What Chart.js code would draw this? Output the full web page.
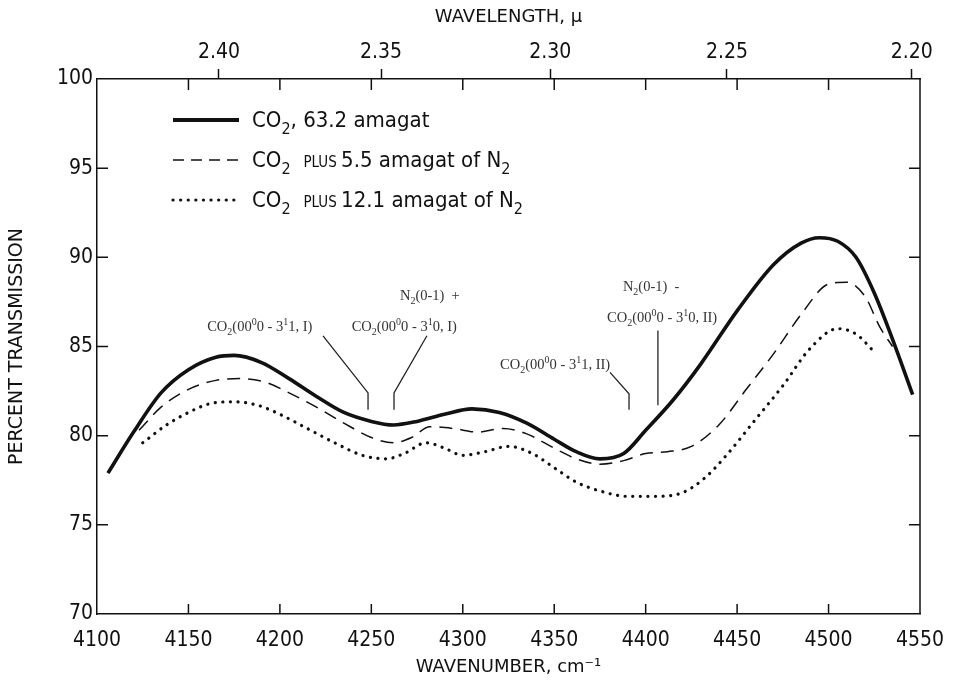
<!DOCTYPE html>
<html lang="en">
<head>
<meta charset="UTF-8" />
<title>CO2 transmission | pressure induced bands</title>
<style>
  html, body { margin: 0; padding: 0; background: #fff; }
  #wrap { width: 954px; height: 680px; }
</style>
</head>
<body>
<div id="wrap"><canvas id="chart" width="954" height="680"></canvas></div>

<script src="https://cdn.jsdelivr.net/npm/chart.js"></script>

<script>
// axis ticks
const wavenumberTicks = [4100, 4150, 4200, 4250, 4300, 4350, 4400, 4450, 4500, 4550];
const wavelengthTicks = [2.40, 2.35, 2.30, 2.25, 2.20];
const transmissionTicks = [70, 75, 80, 85, 90, 95, 100];

// CO2, 63.2 amagat
const pureX = [4106, 4120, 4135, 4150, 4165, 4175, 4190, 4205, 4220, 4235, 4250, 4262, 4275, 4290, 4305, 4320, 4335, 4350, 4362, 4375, 4388, 4400, 4415, 4430, 4450, 4470, 4485, 4495, 4505, 4515, 4525, 4535, 4546];
const pureY = [77.9, 80.2, 82.4, 83.7, 84.4, 84.5, 84.1, 83.2, 82.2, 81.3, 80.8, 80.6, 80.8, 81.2, 81.5, 81.3, 80.7, 79.8, 79.1, 78.7, 79.0, 80.3, 82.0, 84.0, 87.0, 89.6, 90.8, 91.1, 90.9, 90.0, 88.0, 85.4, 82.3];

// CO2 plus 5.5 amagat of N2
const n55X = [4123, 4135, 4150, 4165, 4178, 4192, 4205, 4220, 4235, 4250, 4262, 4272, 4282, 4295, 4308, 4322, 4335, 4350, 4362, 4375, 4388, 4400, 4412, 4425, 4440, 4455, 4470, 4485, 4500, 4510, 4520, 4528, 4535];
const n55Y = [80.3, 81.6, 82.6, 83.1, 83.2, 83.0, 82.4, 81.6, 80.7, 79.9, 79.6, 79.9, 80.5, 80.4, 80.2, 80.4, 80.1, 79.3, 78.7, 78.4, 78.6, 79.0, 79.1, 79.4, 80.6, 82.6, 84.6, 86.8, 88.5, 88.6, 87.8, 86.1, 85.0];

// CO2 plus 12.1 amagat of N2
const n121X = [4125, 4138, 4150, 4162, 4175, 4188, 4200, 4215, 4230, 4245, 4258, 4268, 4280, 4290, 4300, 4312, 4325, 4338, 4350, 4362, 4375, 4390, 4405, 4420, 4432, 4445, 4460, 4475, 4490, 4505, 4515, 4525];
const n121Y = [79.6, 80.6, 81.3, 81.8, 81.9, 81.7, 81.2, 80.4, 79.6, 78.9, 78.7, 79.0, 79.6, 79.3, 78.9, 79.1, 79.4, 79.0, 78.2, 77.4, 76.9, 76.6, 76.6, 76.8, 77.6, 79.0, 80.9, 82.8, 84.9, 86.0, 85.7, 84.7];

const INK = "#111111";
const SANS = "'Liberation Sans Narrow', 'DejaVu Sans Condensed', 'DejaVu Sans', sans-serif";
const WIDE = "'DejaVu Sans', 'Liberation Sans', sans-serif";
const SERIF = "'Liberation Serif', 'DejaVu Serif', serif";

const toPoints = (xs, ys) => xs.map((x, i) => ({ x: x, y: ys[i] }));

// draws a run of text pieces: [text, size, dy, family]
function richText(ctx, x, y, parts, align) {
  let width = 0;
  parts.forEach((p) => {
    ctx.font = p[1] + "px " + (p[3] || SANS);
    width += ctx.measureText(p[0]).width;
  });
  let cx = align === "center" ? x - width / 2 : x;
  ctx.textAlign = "left";
  ctx.textBaseline = "alphabetic";
  parts.forEach((p) => {
    ctx.font = p[1] + "px " + (p[3] || SANS);
    ctx.fillText(p[0], cx, y + (p[2] || 0));
    cx += ctx.measureText(p[0]).width;
  });
}

const legendItems = [
  { width: 4, dash: [], cap: "butt", parts: [["CO", 22], ["2", 16, 7], [", 63.2 amagat", 22]] },
  { width: 1.6, dash: [11, 7], cap: "butt", parts: [["CO", 22], ["2", 16, 7], ["   PLUS ", 15], ["5.5 amagat of N", 22], ["2", 16, 7]] },
  { width: 3.2, dash: [0.1, 7.5], cap: "round", parts: [["CO", 22], ["2", 16, 7], ["   PLUS ", 15], ["12.1 amagat of N", 22], ["2", 16, 7]] },
];

const sub = (t) => [t, 10, 4, SERIF];
const sup = (t) => [t, 10, -6, SERIF];
const s = (t) => [t, 14.5, 0, SERIF];

// band labels: text anchors and leader lines in data units
const bandLabels = [
  { lines: [{ x: 4189, y: 85.85, parts: [s("CO"), sub("2"), s("(00"), sup("0"), s("0 - 3"), sup("1"), s("1, I)")] }],
    leader: [[4223.6, 85.6], [4248.2, 82.4], [4248.2, 81.45]] },
  { lines: [{ x: 4282, y: 87.6, parts: [s("N"), sub("2"), s("(0-1)  +")] },
            { x: 4268, y: 85.85, parts: [s("CO"), sub("2"), s("(00"), sup("0"), s("0 - 3"), sup("1"), s("0, I)")] }],
    leader: [[4280.4, 85.6], [4262.4, 82.4], [4262.4, 81.45]] },
  { lines: [{ x: 4350.5, y: 83.75, parts: [s("CO"), sub("2"), s("(00"), sup("0"), s("0 - 3"), sup("1"), s("1, II)")] }],
    leader: [[4380.5, 83.55], [4390.9, 82.35], [4390.9, 81.45]] },
  { lines: [{ x: 4403, y: 88.1, parts: [s("N"), sub("2"), s("(0-1)  -")] },
            { x: 4409, y: 86.4, parts: [s("CO"), sub("2"), s("(00"), sup("0"), s("0 - 3"), sup("1"), s("0, II)")] }],
    leader: [[4406.7, 85.9], [4406.7, 81.7]] },
];

const framePlugin = {
  id: "frame",
  afterDatasetsDraw(chart) {
    const ctx = chart.ctx;
    const a = chart.chartArea;
    const xs = chart.scales.x;
    const ys = chart.scales.y;
    ctx.save();
    ctx.strokeStyle = INK;
    ctx.lineWidth = 1.5;
    // right border
    ctx.beginPath();
    ctx.moveTo(a.right, a.top);
    ctx.lineTo(a.right, a.bottom);
    ctx.stroke();
    // inward ticks
    ctx.beginPath();
    wavenumberTicks.slice(1, -1).forEach((v) => {
      const px = xs.getPixelForValue(v);
      ctx.moveTo(px, a.bottom);
      ctx.lineTo(px, a.bottom - 10);
      ctx.moveTo(px, a.top);
      ctx.lineTo(px, a.top + 11);
    });
    transmissionTicks.slice(1, -1).forEach((v) => {
      const py = ys.getPixelForValue(v);
      ctx.moveTo(a.left, py);
      ctx.lineTo(a.left + 11, py);
      ctx.moveTo(a.right, py);
      ctx.lineTo(a.right - 11, py);
    });
    ctx.stroke();

    // legend
    ctx.fillStyle = INK;
    legendItems.forEach((it, i) => {
      const y = a.top + 41 + i * 40;
      ctx.beginPath();
      ctx.lineWidth = it.width;
      ctx.setLineDash(it.dash);
      ctx.lineCap = it.cap;
      ctx.moveTo(a.left + 76, y);
      ctx.lineTo(a.left + 142, y);
      ctx.stroke();
      ctx.setLineDash([]);
      ctx.lineCap = "butt";
      richText(ctx, a.left + 155, y + 7, it.parts, "left");
    });

    // band labels
    ctx.fillStyle = "#333";
    ctx.strokeStyle = "#222";
    ctx.lineWidth = 1.3;
    bandLabels.forEach((b) => {
      b.lines.forEach((l) => {
        richText(ctx, xs.getPixelForValue(l.x), ys.getPixelForValue(l.y), l.parts, "center");
      });
      ctx.beginPath();
      b.leader.forEach((p, i) => {
        const px = xs.getPixelForValue(p[0]);
        const py = ys.getPixelForValue(p[1]);
        if (i === 0) ctx.moveTo(px, py);
        else ctx.lineTo(px, py);
      });
      ctx.stroke();
    });
    ctx.restore();
  },
};

const axisFont = { family: SANS, size: 21 };
const titleFont = { family: WIDE, size: 18 };

// keep the plot box fixed: no extra side room for end labels
const fitX = (h) => (sc) => {
  sc.height = h;
  sc.paddingLeft = 0;
  sc.paddingRight = 0;
};

new Chart(document.getElementById("chart"), {
  type: "line",
  data: {
    datasets: [
      { label: "CO2, 63.2 amagat", data: toPoints(pureX, pureY), borderColor: INK, borderWidth: 3.6 },
      { label: "CO2 plus 5.5 amagat of N2", data: toPoints(n55X, n55Y), borderColor: INK, borderWidth: 1.5, borderDash: [13, 8] },
      { label: "CO2 plus 12.1 amagat of N2", data: toPoints(n121X, n121Y), borderColor: INK, borderWidth: 3.2, borderDash: [0.1, 7.5], borderCapStyle: "round" },
    ].map((d) => Object.assign(d, { xAxisID: "x", yAxisID: "y", pointRadius: 0, fill: false, cubicInterpolationMode: "monotone" })),
  },
  options: {
    responsive: false,
    animation: false,
    layout: { padding: { right: 34 } },
    plugins: { legend: { display: false }, tooltip: { enabled: false } },
    scales: {
      x: {
        type: "linear",
        position: "bottom",
        min: 4100,
        max: 4550,
        afterBuildTicks: (sc) => { sc.ticks = wavenumberTicks.map((v) => ({ value: v })); },
        afterFit: fitX(66),
        ticks: { color: INK, font: axisFont, padding: 14, maxRotation: 0, autoSkip: false, callback: (v) => String(v) },
        grid: { drawOnChartArea: false, drawTicks: false },
        border: { color: INK, width: 1.5 },
        title: { display: true, text: "WAVENUMBER, cm⁻¹", color: INK, font: titleFont, padding: { top: 0, bottom: 2 } },
      },
      x2: {
        type: "linear",
        position: "top",
        min: 4100,
        max: 4550,
        afterBuildTicks: (sc) => { sc.ticks = wavelengthTicks.map((l) => ({ value: 10000 / l })); },
        afterFit: fitX(79),
        ticks: { color: INK, font: axisFont, padding: 4, maxRotation: 0, autoSkip: false, callback: (v) => (10000 / v).toFixed(2) },
        grid: { drawOnChartArea: false, drawTicks: true, tickLength: 10, tickColor: INK, tickWidth: 1.5 },
        border: { color: INK, width: 1.5 },
        title: { display: true, text: "WAVELENGTH, μ", color: INK, font: titleFont, padding: { top: 7, bottom: 4 } },
      },
      y: {
        type: "linear",
        position: "left",
        min: 70,
        max: 100,
        afterBuildTicks: (sc) => { sc.ticks = transmissionTicks.map((v) => ({ value: v })); },
        afterFit: (sc) => { sc.width = 97; sc.paddingTop = 0; sc.paddingBottom = 0; },
        ticks: { color: INK, font: axisFont, padding: 4 },
        grid: { drawOnChartArea: false, drawTicks: false },
        border: { color: INK, width: 1.5 },
        title: { display: true, text: "PERCENT TRANSMISSION", color: INK, font: { family: WIDE, size: 19 }, padding: { top: 6, bottom: 0 } },
      },
    },
  },
  plugins: [framePlugin],
});
</script>
</body>
</html>
